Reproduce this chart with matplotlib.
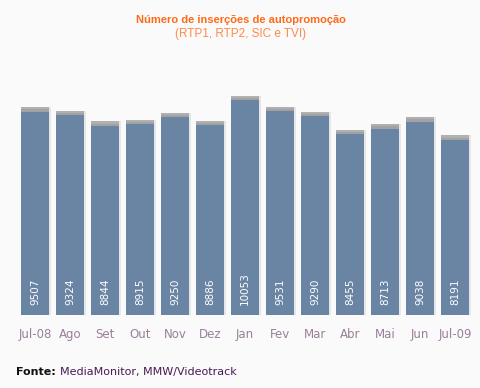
import matplotlib
matplotlib.use("Agg")
import matplotlib.pyplot as plt
import numpy as np

# === Données
months = ["Jul-08", "Ago", "Set", "Out", "Nov", "Dez", "Jan", "Fev", "Mar", "Abr", "Mai", "Jun", "Jul-09"]
values = [9507, 9324, 8844, 8915, 9250, 8886, 10053, 9531, 9290, 8455, 8713, 9038, 8191]

bg = "#fafafa"
bar_color = "#6a84a3"

fig = plt.figure(figsize=(4.81, 3.88), dpi=100, facecolor=bg)
ax = fig.add_axes([0.0364, 0.188, 0.946, 0.607])
ax.set_facecolor(bg)

x = np.arange(len(months))
vals = np.array(values)

# halo + cap gris
ax.bar(x + 0.03, vals + 200, width=0.86, color="#e6e6e6", zorder=1)
ax.bar(x, vals + 200, width=0.78, color="#b0b0b0", zorder=2)
ax.bar(x, vals + 100, width=0.8, color="#a2a2a2", zorder=2)
ax.bar(x, vals, width=0.8, color=bar_color, zorder=3)

for xi, v in zip(x, values):
    ax.text(xi, 450, str(v), rotation=90, ha="center", va="bottom",
            color="white", fontsize=7.5, zorder=4)

ax.set_xlim(-0.5, len(months) - 0.5)
ax.set_ylim(0, 11000)
ax.set_xticks(x)
ax.set_xticklabels(months, fontsize=8.5, color="#9a7f9a")
ax.tick_params(axis="x", length=0, pad=9)
ax.set_yticks([])
for s in ax.spines.values():
    s.set_visible(False)

fig.text(0.5, 0.949, "Número de inserções de autopromoção", ha="center", va="center",
         color="#ff6a1a", fontsize=8, fontweight="bold", family="Liberation Sans")
fig.text(0.5, 0.912, "(RTP1, RTP2, SIC e TVI)", ha="center", va="center",
         color="#ff8a4a", fontsize=8.5, family="Liberation Sans")

# === Source
t1 = fig.text(0.033, 0.041, "Fonte:", ha="left", va="center", color="#111111",
              fontsize=8, fontweight="bold")
fig.canvas.draw()
bb = t1.get_window_extent()
fig.text((bb.x1 + 4) / fig.bbox.width, 0.041, "MediaMonitor, MMW/Videotrack", ha="left",
         va="center", color="#4a1a55", fontsize=8)

fig.savefig("out.png", dpi=100, facecolor=bg)
